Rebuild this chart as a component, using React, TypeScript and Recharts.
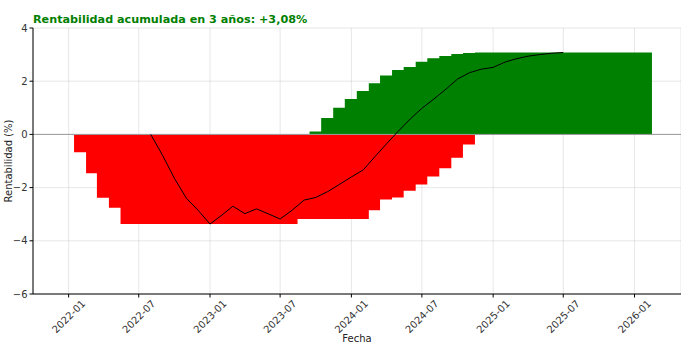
import React from 'react';
import { ComposedChart, Area, Line, XAxis, YAxis, CartesianGrid, ReferenceLine } from 'recharts';

const titleText = 'Rentabilidad acumulada en 3 años: +3,08%';

// pérdidas acumuladas (escalones mensuales)
const lossMonths = [
  '2022-01', '2022-02', '2022-03', '2022-04', '2022-05', '2022-06', '2022-07', '2022-08', '2022-09',
  '2022-10', '2022-11', '2022-12', '2023-01', '2023-02', '2023-03', '2023-04', '2023-05', '2023-06',
  '2023-07', '2023-08', '2023-09', '2023-10', '2023-11', '2023-12', '2024-01', '2024-02', '2024-03',
  '2024-04', '2024-05', '2024-06', '2024-07', '2024-08', '2024-09', '2024-10', '2024-11',
];
const lossValues = [
  -0.67, -1.46, -2.38, -2.76, -3.37, -3.37, -3.37, -3.37, -3.37,
  -3.37, -3.37, -3.37, -3.37, -3.37, -3.37, -3.37, -3.37, -3.37,
  -3.37, -3.18, -3.18, -3.18, -3.18, -3.18, -3.18, -2.85, -2.45,
  -2.37, -2.12, -1.88, -1.58, -1.27, -0.88, -0.38, -0.38,
];

// ganancias acumuladas
const gainMonths = [
  '2023-09', '2023-10', '2023-11', '2023-12', '2024-01', '2024-02', '2024-03', '2024-04', '2024-05',
  '2024-06', '2024-07', '2024-08', '2024-09', '2024-10', '2024-11', '2024-12', '2025-01', '2025-02',
  '2025-03', '2025-04', '2025-05', '2025-06', '2025-07', '2025-08', '2025-09', '2025-10', '2025-11',
  '2025-12', '2026-01', '2026-02',
];
const gainValues = [
  0.11, 0.62, 1.0, 1.33, 1.63, 1.92, 2.21, 2.42, 2.53,
  2.73, 2.86, 2.95, 3.02, 3.06, 3.08, 3.08, 3.08, 3.08,
  3.08, 3.08, 3.08, 3.08, 3.08, 3.08, 3.08, 3.08, 3.08,
  3.08, 3.08, 3.08,
];

// rentabilidad acumulada
const lineMonths = [
  '2022-08', '2022-09', '2022-10', '2022-11', '2022-12', '2023-01', '2023-02', '2023-03', '2023-04',
  '2023-05', '2023-06', '2023-07', '2023-08', '2023-09', '2023-10', '2023-11', '2023-12', '2024-01',
  '2024-02', '2024-03', '2024-04', '2024-05', '2024-06', '2024-07', '2024-08', '2024-09', '2024-10',
  '2024-11', '2024-12', '2025-01', '2025-02', '2025-03', '2025-04', '2025-05', '2025-06', '2025-07',
];
const lineValues = [
  0, -0.8, -1.65, -2.4, -2.85, -3.37, -3.03, -2.7, -2.98,
  -2.8, -2.99, -3.18, -2.85, -2.47, -2.37, -2.15, -1.88, -1.6,
  -1.33, -0.85, -0.35, 0.12, 0.58, 0.98, 1.33, 1.7, 2.08,
  2.32, 2.45, 2.52, 2.72, 2.84, 2.94, 3.0, 3.05, 3.08,
];

const xTickLabels = ['2022-01', '2022-07', '2023-01', '2023-07', '2024-01', '2024-07', '2025-01', '2025-07', '2026-01'];
const yTicks = [-6, -4, -2, 0, 2, 4];

const toTime = (month: string, day: number) => {
  const [y, m] = month.split('-').map(Number);
  return Date.UTC(y, m - 1, day);
};

const rows = new Map<number, any>();
const put = (t: number, key: string, v: number) => {
  const row = rows.get(t) || { t };
  row[key] = v;
  rows.set(t, row);
};
lossMonths.forEach((m, i) => put(toTime(m, 15), 'loss', lossValues[i]));
gainMonths.forEach((m, i) => put(toTime(m, 15), 'gain', gainValues[i]));
lineMonths.forEach((m, i) => put(toTime(m, 1), 'rent', lineValues[i]));
const data = Array.from(rows.values()).sort((a, b) => a.t - b.t);

const xTicks = xTickLabels.map((m) => toTime(m, 1));
const xDomain = [Date.UTC(2021, 9, 1), Date.UTC(2026, 4, 1)];

const font = '"DejaVu Sans", sans-serif';

const DateTick = (props: any) => {
  const { x, y, payload } = props;
  const d = new Date(payload.value);
  const label = `${d.getUTCFullYear()}-${String(d.getUTCMonth() + 1).padStart(2, '0')}`;
  return (
    <text
      x={0}
      y={0}
      transform={`translate(${x},${y + 17}) rotate(-45)`}
      textAnchor="middle"
      dominantBaseline="central"
      fontSize={10}
      fontFamily={font}
      fill="#333"
    >
      {label}
    </text>
  );
};

export default function App() {
  return (
    <div style={{ position: 'absolute', left: 0, top: 0, width: 681, height: 354, background: '#fff' }}>
      <ComposedChart width={681} height={354} data={data} margin={{ top: 28, right: 0, left: 0, bottom: 0 }}>
        <text x={33} y={23} fontSize={11.2} fontWeight="bold" fontFamily={font} fill="#008000">
          {titleText}
        </text>
        <text
          x={8}
          y={161}
          transform="rotate(-90, 8, 161)"
          textAnchor="middle"
          dominantBaseline="central"
          fontSize={10}
          fontFamily={font}
          fill="#222"
        >
          Rentabilidad (%)
        </text>
        <XAxis
          dataKey="t"
          type="number"
          domain={xDomain}
          ticks={xTicks}
          interval={0}
          allowDataOverflow
          height={60}
          tick={<DateTick />}
          tickSize={3.5}
          axisLine={{ stroke: '#000', strokeWidth: 1 }}
          tickLine={{ stroke: '#000' }}
          label={{ value: 'Fecha', position: 'insideBottom', offset: 12, fontSize: 10, fontFamily: font, fill: '#222' }}
        />
        <YAxis
          type="number"
          domain={[-6, 4]}
          ticks={yTicks}
          interval={0}
          width={33}
          tickSize={3.5}
          tick={{ fontSize: 10, fontFamily: font, fill: '#333' }}
          tickFormatter={(v: number) => (v < 0 ? `\u2212${Math.abs(v)}` : `${v}`)}
          axisLine={{ stroke: '#000', strokeWidth: 1 }}
          tickLine={{ stroke: '#000' }}
        />
        <ReferenceLine y={0} stroke="#9a9a9a" strokeWidth={1} />
        <Area
          dataKey="loss"
          type="stepAfter"
          baseValue={0}
          fill="#ff0000"
          fillOpacity={1}
          stroke="none"
          connectNulls
          isAnimationActive={false}
        />
        <Area
          dataKey="gain"
          type="stepAfter"
          baseValue={0}
          fill="#008000"
          fillOpacity={1}
          stroke="none"
          connectNulls
          isAnimationActive={false}
        />
        <CartesianGrid stroke="#b0b0b0" strokeOpacity={0.3} />
        <Line
          dataKey="rent"
          type="linear"
          stroke="#000"
          strokeWidth={1}
          dot={false}
          connectNulls
          isAnimationActive={false}
        />
      </ComposedChart>
    </div>
  );
}
